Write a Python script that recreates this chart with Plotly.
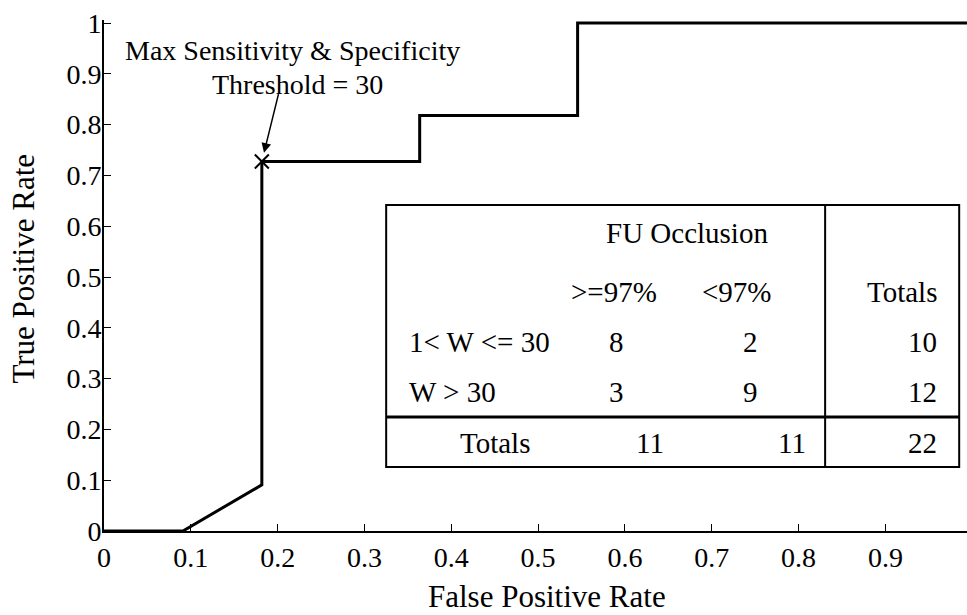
import plotly.graph_objects as go

# ROC curve (false positive rate vs true positive rate)
fpr = [0.0, 0.0909, 0.1818, 0.1818, 0.3636, 0.3636, 0.5455, 0.5455, 1.0]
tpr = [0.0, 0.0, 0.0909, 0.7273, 0.7273, 0.8182, 0.8182, 1.0, 1.0]

# optimal threshold point
best_fpr = [0.1818]
best_tpr = [0.7273]

x_ticks = [0, 0.1, 0.2, 0.3, 0.4, 0.5, 0.6, 0.7, 0.8, 0.9]
x_tick_text = ["0", "0.1", "0.2", "0.3", "0.4", "0.5", "0.6", "0.7", "0.8", "0.9"]
y_ticks = [0, 0.1, 0.2, 0.3, 0.4, 0.5, 0.6, 0.7, 0.8, 0.9, 1.0]
y_tick_text = ["0", "0.1", "0.2", "0.3", "0.4", "0.5", "0.6", "0.7", "0.8", "0.9", "1"]

# contingency table
col_group = "FU Occlusion"
col_headers = [">=97%", "<97%"]
total_header = "Totals"
row_labels = ["1< W <= 30", "W > 30"]
counts = [[8, 2], [3, 9]]
row_totals = [10, 12]
col_totals = [11, 11]
grand_total = 22

FONT = "Liberation Serif"
TICK_FS = 28
TXT_FS = 28
TAB_FS = 29
TITLE_FS = 31

fig = go.Figure()
fig.add_trace(go.Scatter(x=fpr, y=tpr, mode="lines",
                         line=dict(color="black", width=3), showlegend=False))
fig.add_trace(go.Scatter(x=best_fpr, y=best_tpr, mode="markers",
                         marker=dict(symbol="x-thin", size=14,
                                     line=dict(color="black", width=2)),
                         showlegend=False, cliponaxis=False))

anns = []
# arrow to the optimal point
anns.append(dict(x=best_fpr[0], y=best_tpr[0], xref="x", yref="y",
                 text="", showarrow=True, ax=17, ay=-69,
                 arrowhead=2, arrowsize=1.3, arrowwidth=1.5,
                 arrowcolor="black", standoff=9))
anns.append(dict(x=0.2166, y=0.945, xref="x", yref="y",
                 text="Max Sensitivity & Specificity",
                 showarrow=False, xanchor="center", yanchor="middle",
                 font=dict(family=FONT, size=TXT_FS, color="black")))
anns.append(dict(x=0.2224, y=0.880, xref="x", yref="y",
                 text="Threshold = 30",
                 showarrow=False, xanchor="center", yanchor="middle",
                 font=dict(family=FONT, size=TXT_FS, color="black")))

# axis titles
anns.append(dict(x=0.513, y=-0.129, xref="paper", yref="paper",
                 text="False Positive Rate", showarrow=False,
                 xanchor="center", yanchor="middle",
                 font=dict(family=FONT, size=TITLE_FS, color="black")))
anns.append(dict(x=-0.093, y=0.513, xref="paper", yref="paper",
                 text="True Positive Rate", showarrow=False, textangle=-90,
                 xanchor="center", yanchor="middle",
                 font=dict(family=FONT, size=TITLE_FS, color="black")))

# table frame (data coordinates of the inset)
tx0, tx1, txm = 0.325, 0.985, 0.8306
ty0, ty1, tym = 0.126, 0.6417, 0.2244
shapes = [
    dict(type="rect", xref="x", yref="y", x0=tx0, x1=tx1, y0=ty0, y1=ty1,
         line=dict(color="black", width=2), fillcolor="white", layer="above"),
    dict(type="line", xref="x", yref="y", x0=txm, x1=txm, y0=ty0, y1=ty1,
         line=dict(color="black", width=2), layer="above"),
    dict(type="line", xref="x", yref="y", x0=tx0, x1=tx1, y0=tym, y1=tym,
         line=dict(color="black", width=3), layer="above"),
]

def txt(x, y, s, anchor="center"):
    anns.append(dict(x=x, y=y, xref="x", yref="y", text=str(s),
                     showarrow=False, xanchor=anchor, yanchor="middle",
                     font=dict(family=FONT, size=TAB_FS, color="black")))

col_x = [0.590, 0.745]
right_x = 0.962
row_y = [0.372, 0.2737]
head_y = 0.4705
tot_y = 0.173

txt(0.672, 0.587, col_group)
for cx, h in zip([0.587, 0.7296], col_headers):
    txt(cx, head_y, h)
txt(right_x, head_y, total_header, "right")
for ry, lab, row, rt in zip(row_y, row_labels, counts, row_totals):
    txt(0.349, ry, lab, "left")
    for cx, v in zip(col_x, row):
        txt(cx, ry, v)
    txt(right_x, ry, rt, "right")
txt(0.450, tot_y, total_header)
for cx, v in zip([0.629, 0.793], col_totals):
    txt(cx, tot_y, v)
txt(right_x, tot_y, grand_total, "right")

fig.update_layout(
    width=967, height=615,
    margin=dict(l=104, r=0, t=20, b=84),
    paper_bgcolor="white", plot_bgcolor="white",
    font=dict(family=FONT, size=TICK_FS, color="black"),
    shapes=shapes, annotations=anns,
    xaxis=dict(range=[0, 0.994], tickvals=x_ticks, ticktext=x_tick_text,
               ticks="inside", ticklen=7, tickwidth=1, tickcolor="black",
               showline=True, linecolor="black", linewidth=2,
               showgrid=False, zeroline=False,
               tickfont=dict(family=FONT, size=TICK_FS)),
    yaxis=dict(range=[0, 1.006], tickvals=y_ticks, ticktext=y_tick_text,
               ticks="inside", ticklen=7, tickwidth=1, tickcolor="black",
               showline=True, linecolor="black", linewidth=2,
               showgrid=False, zeroline=False, ticklabelstandoff=-5,
               tickfont=dict(family=FONT, size=TICK_FS)),
)

fig.write_html("out.html")
